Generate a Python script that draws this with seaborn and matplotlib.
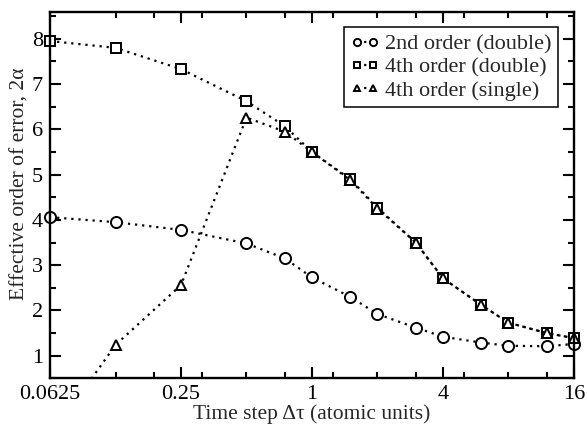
import numpy as np
import pandas as pd
import matplotlib
matplotlib.use("Agg")
import matplotlib.pyplot as plt
from matplotlib.ticker import FixedLocator, FixedFormatter, NullFormatter
from matplotlib.transforms import Bbox, TransformedBbox
import seaborn as sns

# Time steps (atomic units)
time_step = [0.0625, 0.125, 0.25, 0.5, 0.75, 1, 1.5, 2, 3, 4, 6, 8, 12, 16]

# Effective order of error, 2*alpha
second_double = [4.06, 3.95, 3.78, 3.48, 3.15, 2.73, 2.30, 1.92, 1.62, 1.42, 1.29, 1.22, 1.21, 1.26]
fourth_double = [7.95, 7.80, 7.33, 6.62, 6.07, 5.50, 4.90, 4.27, 3.50, 2.71, 2.12, 1.73, 1.50, 1.39]
fourth_single = [-0.80, 1.24, 2.56, 6.26, 5.95, 5.50, 4.88, 4.25, 3.50, 2.71, 2.12, 1.73, 1.50, 1.39]

series_labels = ["2nd order (double)", "4th order (double)", "4th order (single)"]
series_values = [second_double, fourth_double, fourth_single]
series_markers = ["o", "s", "^"]
series_sizes = [8.0, 7.0, 7.0]

major_ticks = [0.0625, 0.25, 1, 4, 16]
major_labels = ["0.0625", "0.25", "1", "4", "16"]
minor_ticks = [0.125, 0.1875, 0.3125, 0.5, 0.75, 1.25, 2, 3, 5, 8, 12]

sns.set_style("ticks", {"xtick.direction": "in", "ytick.direction": "in"})
plt.rcParams["font.family"] = ["Liberation Serif", "DejaVu Serif"]
plt.rcParams["mathtext.fontset"] = "stix"

fig = plt.figure(figsize=(5.87, 4.30), dpi=100)
ax = fig.add_axes([0.0852, 0.120, 0.8926, 0.853])

df = pd.DataFrame({"dt": time_step})
for lab, vals, mk, ms in zip(series_labels, series_values, series_markers, series_sizes):
    df[lab] = vals
    sns.lineplot(data=df, x="dt", y=lab, ax=ax, color="black", linestyle=":",
                 linewidth=1.6, marker=mk, markersize=ms,
                 markerfacecolor="white", markeredgecolor="black",
                 markeredgewidth=1.4, label=lab, sort=False)

ax.set_xscale("log", base=2)
ax.set_xlim(0.0625, 16)
ax.set_ylim(0.5, 8.6)

# let markers on the left/right edges show in full, but still clip vertically
clip = TransformedBbox(Bbox([[-0.03, 0.0], [1.03, 1.0]]), ax.transAxes)
for line in ax.get_lines():
    line.set_dashes((1.0, 2.2))
    line.set_markeredgecolor("black")
    line.set_clip_box(clip)

ax.xaxis.set_major_locator(FixedLocator(major_ticks))
ax.xaxis.set_major_formatter(FixedFormatter(major_labels))
ax.xaxis.set_minor_locator(FixedLocator(minor_ticks))
ax.xaxis.set_minor_formatter(NullFormatter())
ax.set_yticks(np.arange(1, 9, 1))
ax.set_yticks(np.arange(0.5, 8.6, 0.5), minor=True)

ax.tick_params(which="both", direction="in", top=True, right=True,
               colors="black", width=1.5)
ax.tick_params(which="major", length=8, labelsize=16, pad=5)
ax.tick_params(which="minor", length=4.5)
for sp in ax.spines.values():
    sp.set_visible(True)
    sp.set_linewidth(1.7)
    sp.set_color("black")

ax.set_xlabel("Time step Δτ (atomic units)", fontsize=15.5, labelpad=0)
ax.set_ylabel("Effective order of error, 2α", fontsize=15.5)
ax.yaxis.set_label_coords(-0.040, 0.53)

leg = ax.legend(loc="upper right", numpoints=2, markerscale=0.65, fontsize=16,
                frameon=True, fancybox=False, framealpha=1, edgecolor="black",
                handlelength=1.3, handletextpad=0.25, borderpad=0.3,
                labelspacing=0.12, borderaxespad=0.7)
leg.get_frame().set_linewidth(1.1)

fig.savefig("out.png", dpi=100)
